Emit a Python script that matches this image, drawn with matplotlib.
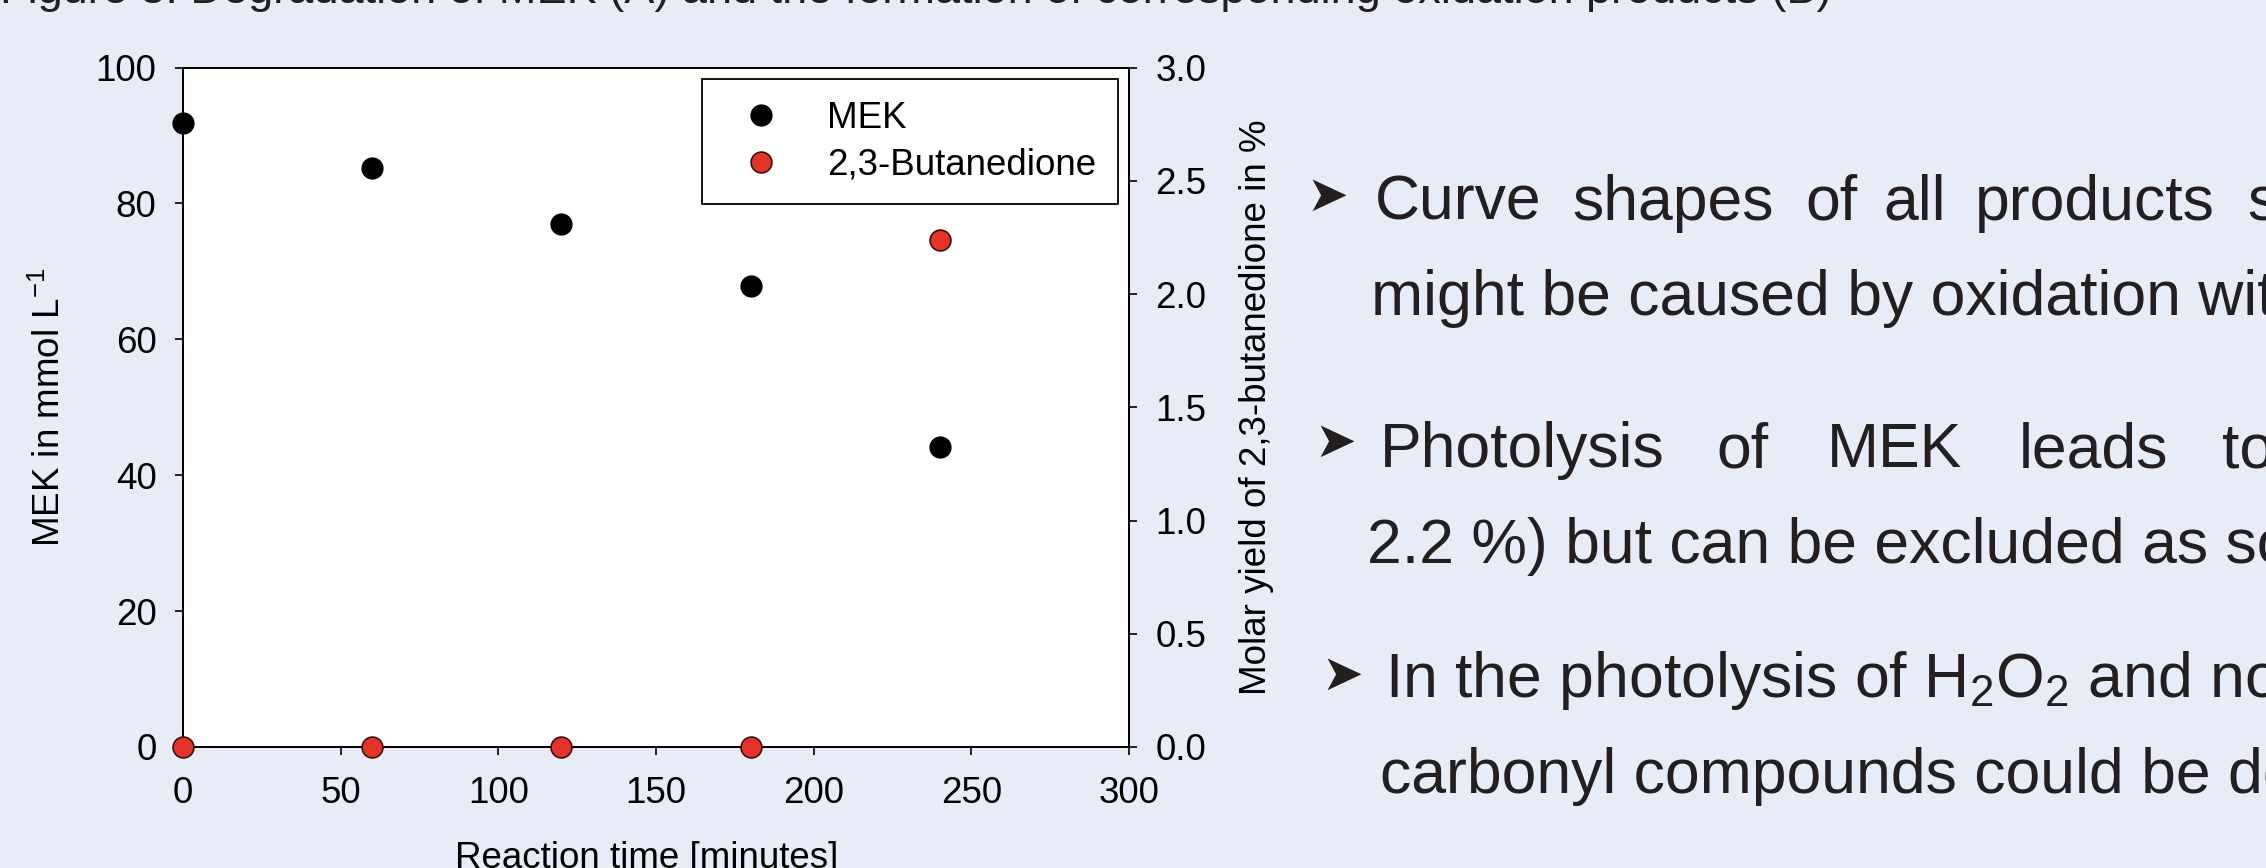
import matplotlib
matplotlib.use("Agg")
import matplotlib.pyplot as plt

# data
time_min = [0, 60, 120, 180, 240]
mek_mmol = [91.8, 85.2, 76.9, 67.8, 44.1]
butanedione_pct = [0.0, 0.0, 0.0, 0.0, 2.24]
x_ticks = [0, 50, 100, 150, 200, 250, 300]
left_ticks = [0, 20, 40, 60, 80, 100]
right_ticks = [0.0, 0.5, 1.0, 1.5, 2.0, 2.5, 3.0]
series_labels = ["MEK", "2,3-Butanedione"]

caption = "Figure 3: Degradation of MEK (A) and the formation of corresponding oxidation products (B)"
bullet_lines = [
    ["Curve", "shapes", "of", "all", "products", "show"],
    ["might be caused by oxidation with OH radicals"],
    ["Photolysis", "of", "MEK", "leads", "to"],
    ["2.2 %) but can be excluded as source"],
    [r"In the photolysis of H$_\mathregular{2}$O$_\mathregular{2}$ and no other"],
    ["carbonyl compounds could be detected"],
]

BG = "#E8ECF7"
INK = "#231F20"
RED = "#E5332A"
W, H = 2266, 868

plt.rcParams["font.family"] = ["Liberation Sans", "DejaVu Sans"]
plt.rcParams["mathtext.fontset"] = "custom"
plt.rcParams["mathtext.rm"] = "Liberation Sans"
plt.rcParams["mathtext.it"] = "Liberation Sans:italic"
plt.rcParams["axes.unicode_minus"] = False

fig = plt.figure(figsize=(W / 100, H / 100), dpi=100, facecolor=BG)
ax = fig.add_axes([183 / W, 1 - 747 / H, (1129 - 183) / W, (747 - 67.5) / H])
ax.set_facecolor("white")
ax2 = ax.twinx()

h1, = ax.plot(time_min, mek_mmol, linestyle="none", marker="o", markersize=15,
              markerfacecolor="black", markeredgecolor="black", markeredgewidth=1,
              clip_on=False, zorder=5)
h2, = ax2.plot(time_min, butanedione_pct, linestyle="none", marker="o", markersize=15,
               markerfacecolor=RED, markeredgecolor="#3a1010", markeredgewidth=1.2,
               clip_on=False, zorder=5)

ax.set_xlim(0, 300)
ax.set_ylim(0, 100)
ax2.set_ylim(0, 3)
ax.set_xticks(x_ticks)
ax.set_yticks(left_ticks)
ax2.set_yticks(right_ticks)
ax2.set_yticklabels(["%.1f" % v for v in right_ticks])

for a in (ax, ax2):
    for s in a.spines.values():
        s.set_linewidth(1.3)
        s.set_color("black")
    a.tick_params(direction="out", length=6, width=1.2, labelsize=26.5,
                  pad=13, colors="black")
ax.tick_params(axis="x", pad=15)
ax.tick_params(top=False, right=False)

ax.set_xlabel("Reaction time [minutes]", fontsize=26.5)
ax.xaxis.set_label_coords(0.49, -0.138)
ax.xaxis.label.set_va("top")
ax.set_ylabel(r"MEK in mmol L$^\mathregular{-1}$", fontsize=26.5)
ax.yaxis.set_label_coords((50 - 183) / 946, 0.5)
ax.yaxis.label.set_va("center")
ax2.set_ylabel("Molar yield of 2,3-butanedione in %", fontsize=26.5)
ax2.yaxis.set_label_coords((1256 - 183) / 946, 0.5)
ax2.yaxis.label.set_va("center")

leg = ax2.legend([h1, h2], series_labels, loc="upper right", fontsize=26.5,
                 frameon=True, fancybox=False, edgecolor="black", framealpha=1,
                 borderpad=0.6, labelspacing=0.32, handlelength=2.0,
                 handletextpad=0.8, borderaxespad=0.3)
leg.get_frame().set_linewidth(1.3)
leg.set_zorder(10)

# caption cut off at the top edge
fig.text(0, 1 - 3 / H, caption, fontsize=32.5, color=INK, va="baseline", ha="left")

# bullet points on the right
baselines = [220, 315, 467, 563, 697, 793]
word_x = [
    [1375, 1572, 1805, 1883, 1975, 2247],
    [1371],
    [1380, 1716, 1827, 2019, 2222],
    [1367],
    [1385],
    [1380],
]
bullets = [(1327, 197), (1335, 443), (1342, 676)]

for words, xs, yb in zip(bullet_lines, word_x, baselines):
    for word, xw in zip(words, xs):
        fig.text(xw / W, 1 - yb / H, word, fontsize=45, color=INK,
                 ha="left", va="baseline")

for bx, by in bullets:
    fig.text(bx / W, 1 - by / H, "\u27a4", fontsize=36, color=INK,
             ha="center", va="center", family="DejaVu Sans")

fig.savefig("out.png", dpi=100, facecolor=BG)
